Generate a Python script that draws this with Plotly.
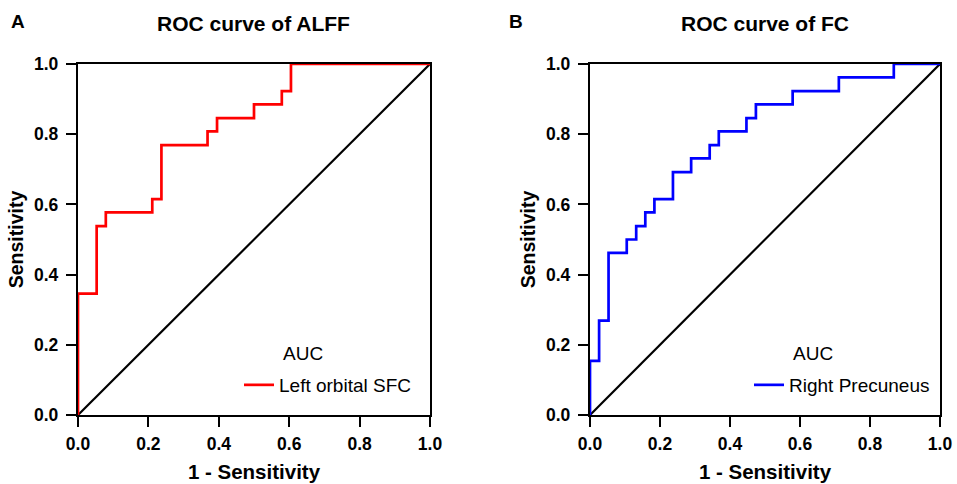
import plotly.graph_objects as go

W, H = 957, 484

# ---- data ----
ref_x = [0.0, 1.0]
ref_y = [0.0, 1.0]

alff_name = "Left orbital SFC"
alff_fpr = [0.0, 0.0, 0.053, 0.079, 0.211, 0.237, 0.368, 0.395, 0.500, 0.579, 0.605, 1.0]
alff_tpr = [0.0, 0.346, 0.538, 0.577, 0.615, 0.769, 0.808, 0.846, 0.885, 0.923, 1.0, 1.0]

fc_name = "Right Precuneus"
fc_fpr = [0.0, 0.0, 0.026, 0.053, 0.105, 0.132, 0.158, 0.184, 0.237, 0.289, 0.342, 0.368,
          0.447, 0.474, 0.579, 0.711, 0.868, 1.0]
fc_tpr = [0.0, 0.154, 0.269, 0.462, 0.500, 0.538, 0.577, 0.615, 0.692, 0.731, 0.769, 0.808,
          0.846, 0.885, 0.923, 0.962, 1.0, 1.0]

tick_vals = [0.0, 0.2, 0.4, 0.6, 0.8, 1.0]
tick_text = ["0.0", "0.2", "0.4", "0.6", "0.8", "1.0"]

titles = ["ROC curve of ALFF", "ROC curve of FC"]
panels = ["A", "B"]
x_title = "1 - Sensitivity"
y_title = "Sensitivity"

FONT = "Liberation Sans, Arial, Helvetica, sans-serif"

# ---- layout geometry (pixels) ----
left_dom = [78 / W, 430 / W]
right_dom = [590 / W, 940 / W]
y_dom = [1 - 415 / H, 1 - 64 / H]

fig = go.Figure()

# left panel
fig.add_trace(go.Scatter(x=ref_x, y=ref_y, mode="lines", line=dict(color="black", width=2.2),
                         showlegend=False, xaxis="x", yaxis="y", hoverinfo="skip"))
fig.add_trace(go.Scatter(x=alff_fpr, y=alff_tpr, mode="lines", line=dict(color="#ff0000", width=2.7, shape="hv"),
                         name=alff_name, legend="legend", xaxis="x", yaxis="y"))
# right panel
fig.add_trace(go.Scatter(x=ref_x, y=ref_y, mode="lines", line=dict(color="black", width=2.2),
                         showlegend=False, xaxis="x2", yaxis="y2", hoverinfo="skip"))
fig.add_trace(go.Scatter(x=fc_fpr, y=fc_tpr, mode="lines", line=dict(color="#0000ff", width=2.7, shape="hv"),
                         name=fc_name, legend="legend2", xaxis="x2", yaxis="y2"))

def xax(domain, anchor):
    return dict(domain=domain, anchor=anchor, range=[0, 1], tickvals=tick_vals, ticktext=tick_text,
                ticks="outside", ticklen=10, tickwidth=2.2, tickcolor="black", ticklabelstandoff=2,
                showline=True, linewidth=2.4, linecolor="black", mirror=True,
                showgrid=False, zeroline=False, layer="below traces",
                tickfont=dict(family=FONT, size=17.5, color="black", weight="bold"),
                title=dict(text=x_title, standoff=11,
                           font=dict(family=FONT, size=20.5, color="black", weight="bold")),
                automargin=False)

def yax(anchor):
    return dict(domain=y_dom, anchor=anchor, range=[0, 1], tickvals=tick_vals, ticktext=tick_text,
                ticks="outside", ticklen=10, tickwidth=2.2, tickcolor="black", ticklabelstandoff=4,
                showline=True, linewidth=2.4, linecolor="black", mirror=True,
                showgrid=False, zeroline=False, layer="below traces",
                tickfont=dict(family=FONT, size=17.5, color="black", weight="bold"),
                title=dict(text=y_title, standoff=5,
                           font=dict(family=FONT, size=19.5, color="black", weight="bold")),
                automargin=False)

annotations = []
for dom, t in zip([left_dom, right_dom], titles):
    annotations.append(dict(text=t, x=(dom[0] + dom[1]) / 2, y=1 - 23 / H, xref="paper", yref="paper",
                            xanchor="center", yanchor="middle", showarrow=False,
                            font=dict(family=FONT, size=21, color="black", weight="bold")))
for xp, p in zip([18 / W, 516 / W], panels):
    annotations.append(dict(text=p, x=xp, y=1 - 21 / H, xref="paper", yref="paper",
                            xanchor="center", yanchor="middle", showarrow=False,
                            font=dict(family=FONT, size=19, color="black", weight="bold")))
for xp in [281 / W, 791 / W]:
    annotations.append(dict(text="AUC", x=xp, y=1 - 353 / H, xref="paper", yref="paper",
                            xanchor="left", yanchor="middle", showarrow=False,
                            font=dict(family=FONT, size=19, color="black")))

leg_common = dict(xanchor="left", yanchor="middle", bgcolor="rgba(0,0,0,0)", borderwidth=0,
                  font=dict(family=FONT, size=19, color="black"))

fig.update_layout(
    width=W, height=H, autosize=False,
    margin=dict(l=0, r=0, t=0, b=0),
    paper_bgcolor="white", plot_bgcolor="white",
    xaxis=xax(left_dom, "y"), yaxis=yax("x"),
    xaxis2=xax(right_dom, "y2"), yaxis2=yax("x2"),
    legend=dict(x=239 / W, y=1 - 385 / H, **leg_common),
    legend2=dict(x=749 / W, y=1 - 385 / H, **leg_common),
    annotations=annotations,
    font=dict(family=FONT, color="black"),
)

fig.write_html("out.html",
               config={"displayModeBar": False},
               post_script="document.body.style.margin='0';document.body.style.padding='0';"
                           "document.body.style.overflow='hidden';")
